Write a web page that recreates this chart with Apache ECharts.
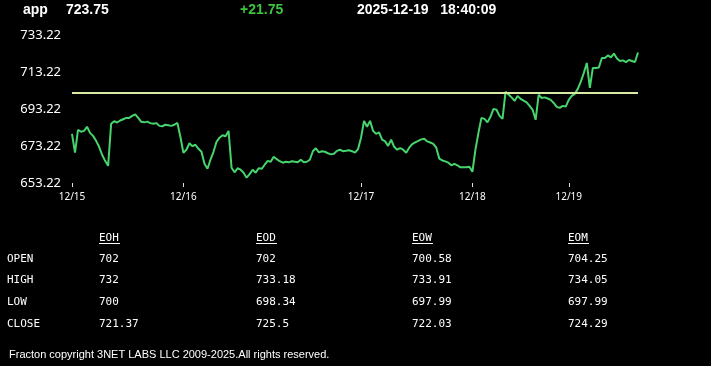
<!DOCTYPE html>
<html>
<head>
<meta charset="utf-8">
<script src="https://cdn.jsdelivr.net/npm/echarts@6/dist/echarts.min.js"></script>
<style>
html,body{margin:0;padding:0;background:#000;}
#chart{width:711px;height:366px;}
</style>
</head>
<body>
<div id="chart"></div>
<script>
// ---- data ----
const symbol = 'app';
const lastPrice = '723.75';
const change = '+21.75';
const stamp = '2025-12-19   18:40:09';
const referenceLevel = 702;
const yAxisBase = 653.22;
const yAxisStep = 20;
const yAxisSteps = 4;
const dayLabels = ['12/15', '12/16', '12/17', '12/18', '12/19'];
const dayStartIndex = [0, 37, 96, 133, 165];
const closePrices = [
  679.8, 669.6, 682.0, 680.9, 681.4, 683.6, 680.3, 678.7, 676.0, 672.8,
  668.5, 665.2, 662.5, 685.2, 686.6, 685.9, 687.0, 687.7, 688.4, 688.4,
  689.5, 690.3, 688.4, 686.3, 686.0, 686.4, 685.6, 685.2, 685.6, 684.1,
  683.9, 684.7, 684.4, 684.1, 684.7, 685.7, 678.2, 669.6, 671.2, 674.7,
  673.1, 673.9, 671.7, 670.1, 663.6, 660.9, 665.8, 670.1, 675.5, 677.7,
  679.0, 678.5, 681.4, 661.5, 659.0, 661.2, 660.4, 658.8, 656.1, 658.0,
  660.4, 658.8, 661.2, 660.9, 663.1, 665.2, 664.7, 667.4, 666.1, 665.0,
  664.2, 664.7, 664.4, 665.0, 664.7, 664.4, 665.8, 664.4, 664.7, 665.8,
  670.4, 672.0, 669.8, 670.4, 670.1, 669.3, 668.7, 669.0, 670.6, 671.2,
  670.4, 670.6, 670.9, 670.4, 669.6, 671.5, 677.7, 686.8, 683.6, 686.8,
  681.4, 679.8, 680.6, 676.6, 675.7, 673.3, 676.6, 672.8, 671.2, 672.1,
  671.2, 669.6, 672.3, 674.2, 675.2, 676.0, 676.8, 677.1, 675.7, 675.1,
  674.4, 672.3, 666.4, 665.4, 664.9, 664.2, 662.8, 663.6, 662.8, 661.7,
  661.7, 661.7, 662.0, 659.3, 671.2, 680.3, 688.4, 687.9, 686.0, 689.0,
  693.3, 692.8, 689.5, 687.9, 702.5, 701.1, 699.5, 697.6, 700.3, 698.7,
  697.7, 696.8, 694.9, 692.8, 687.4, 700.9, 699.2, 699.5, 698.9, 698.15,
  696.5, 694.4, 693.8, 694.9, 694.5, 698.15, 700.3, 701.4, 704.1, 708.0,
  712.7, 718.1, 704.6, 715.4, 715.4, 715.7, 720.8, 720.8, 722.2, 721.1,
  723.2, 720.5, 719.2, 719.5, 718.6, 719.7, 719.2, 718.6, 723.75
];
const tableColumns = ['EOH', 'EOD', 'EOW', 'EOM'];
const tableRows = ['OPEN', 'HIGH', 'LOW', 'CLOSE'];
const eohValues = ['702', '732', '700', '721.37'];
const eodValues = ['702', '733.18', '698.34', '725.5'];
const eowValues = ['700.58', '733.91', '697.99', '722.03'];
const eomValues = ['704.25', '734.05', '697.99', '724.29'];
const footer = 'Fracton copyright 3NET LABS LLC 2009-2025.All rights reserved.';

// ---- chart ----
const chart = echarts.init(document.getElementById('chart'));
const labelAt = {};
dayStartIndex.forEach((idx, k) => { labelAt[idx] = dayLabels[k]; });
const isDay = (idx) => labelAt[idx] !== undefined;

const headerFont = 'bold 14px "Liberation Sans", Arial, sans-serif';
const monoFont = '11px "DejaVu Sans Mono", monospace';
const graphics = [];
function txt(x, y, text, font, fill) {
  graphics.push({ type: 'text', x: x, y: y, silent: true,
    style: { text: text, font: font, fill: fill, textVerticalAlign: 'middle' } });
}
txt(23, 10, symbol, headerFont, '#fff');
txt(66, 10, lastPrice, headerFont, '#fff');
txt(240, 10, change, headerFont, '#3fc43f');
txt(357, 10, stamp, headerFont, '#fff');

const colX = [99, 256, 412, 568];
const colVals = [eohValues, eodValues, eowValues, eomValues];
const rowY = [259, 280, 302, 324];
tableColumns.forEach((c, k) => {
  txt(colX[k], 238, c, monoFont, '#fff');
  graphics.push({ type: 'line', silent: true,
    shape: { x1: colX[k], y1: 243.5, x2: colX[k] + 21, y2: 243.5 },
    style: { stroke: '#fff', lineWidth: 1 } });
});
tableRows.forEach((r, i) => {
  txt(7, rowY[i], r, monoFont, '#fff');
  colVals.forEach((vals, k) => { txt(colX[k], rowY[i], vals[i], monoFont, '#fff'); });
});
txt(9, 355, footer, '11px "Liberation Sans", Arial, sans-serif', '#fff');

chart.setOption({
  backgroundColor: '#000',
  animation: false,
  grid: { left: 72, right: 73, top: 35, bottom: 183 },
  xAxis: {
    type: 'category',
    boundaryGap: false,
    data: closePrices.map((_, i) => String(i)),
    axisLine: { show: false },
    axisTick: { show: true, interval: (idx) => isDay(idx), length: 4, lineStyle: { color: '#ddd', width: 1 } },
    axisLabel: { interval: (idx) => isDay(idx), formatter: (v, idx) => labelAt[idx] || '',
      color: '#fff', fontSize: 10, margin: 9, fontFamily: '"Noto Sans", sans-serif' },
    splitLine: { show: false }
  },
  yAxis: {
    type: 'value',
    min: 0,
    max: yAxisStep * yAxisSteps,
    interval: yAxisStep,
    axisLine: { show: false },
    axisTick: { show: false },
    splitLine: { show: false },
    axisLabel: { color: '#fff', fontSize: 13, margin: 11, fontFamily: '"Noto Sans", sans-serif',
      formatter: (v) => (v + yAxisBase).toFixed(2) }
  },
  series: [{
    type: 'line',
    data: closePrices.map(v => +(v - yAxisBase).toFixed(4)),
    showSymbol: false,
    lineStyle: { color: '#46d46c', width: 2 },
    silent: true,
    markLine: {
      silent: true,
      symbol: 'none',
      label: { show: false },
      lineStyle: { color: '#d9eba2', width: 2, type: 'solid' },
      data: [{ yAxis: referenceLevel - yAxisBase }]
    }
  }],
  graphic: graphics
});
</script>
</body>
</html>
